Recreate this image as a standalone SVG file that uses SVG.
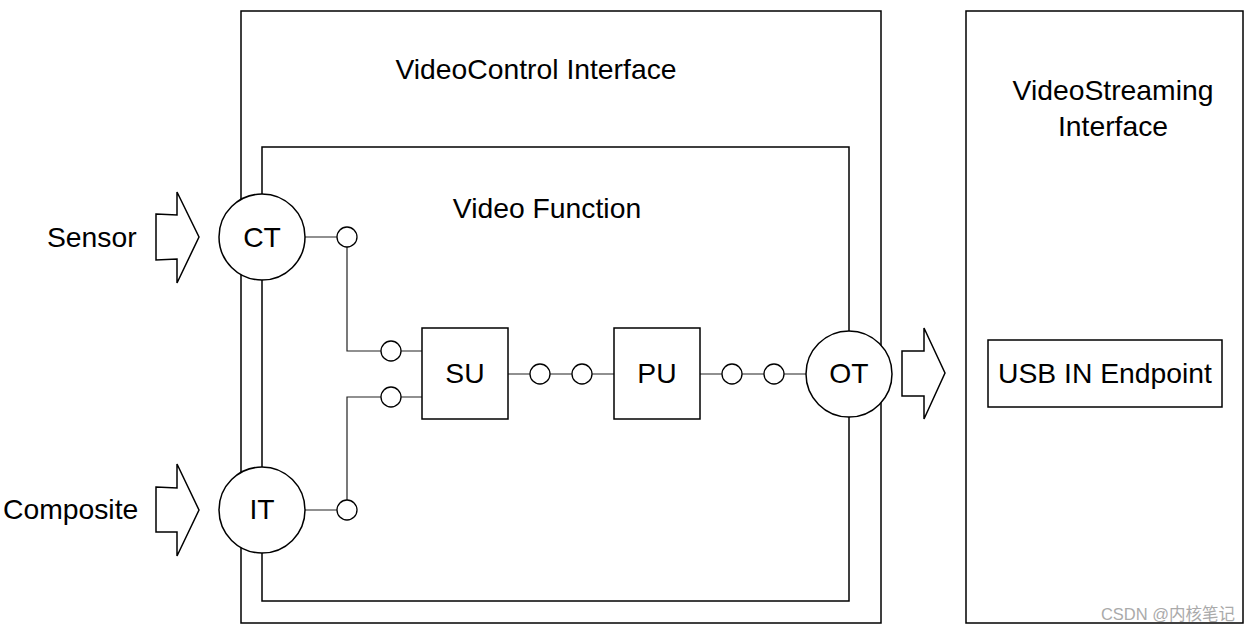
<svg xmlns="http://www.w3.org/2000/svg" width="1250" height="632" viewBox="0 0 1250 632">
<style>
.box{fill:none;stroke:#000;stroke-width:1.5}
.node{fill:#fff;stroke:#000;stroke-width:1.5}
.pin{fill:#fff;stroke:#000;stroke-width:1.3}
.wire{fill:none;stroke:#222;stroke-width:1.2}
.t{font-family:"Liberation Sans",Arial,sans-serif;font-size:28.3px;fill:#000}
.m{text-anchor:middle}
</style>
<rect width="1250" height="632" fill="#fff"/>
<g id="videocontrol-interface">
<rect class="box" x="241" y="11" width="640" height="612"/>
<text class="t m" x="536" y="79">VideoControl Interface</text>
</g>
<g id="video-function">
<rect class="box" x="262" y="147" width="587" height="454"/>
<text class="t m" x="547" y="218">Video Function</text>
</g>
<g id="videostreaming-interface">
<rect class="box" x="966" y="11" width="277" height="612"/>
<text class="t m" x="1113" y="100">VideoStreaming</text>
<text class="t m" x="1113" y="136">Interface</text>
</g>
<g id="connectors">
<path class="wire" d="M305 237H337M347 247V351H381M401 351H422"/>
<path class="wire" d="M305 510H337M347 500V397H381M401 397H422"/>
<path class="wire" d="M508 374H530M550 374H572M592 374H614"/>
<path class="wire" d="M700 374H722M742 374H764M784 374H806"/>
</g>
<g id="pins">
<circle class="pin" cx="347" cy="237" r="10"/>
<circle class="pin" cx="391" cy="351" r="10"/>
<circle class="pin" cx="391" cy="397" r="10"/>
<circle class="pin" cx="347" cy="510" r="10"/>
<circle class="pin" cx="540" cy="374" r="10"/>
<circle class="pin" cx="582" cy="374" r="10"/>
<circle class="pin" cx="732" cy="374" r="10"/>
<circle class="pin" cx="774" cy="374" r="10"/>
</g>
<g id="sensor">
<polygon class="node" points="156,214 177,215 177,192 199,237 177,283 177,259 156,260"/>
<text class="t" x="47" y="247">Sensor</text>
</g>
<g id="composite">
<polygon class="node" points="156,487 177,488 177,464 199,510 177,556 177,532 156,532"/>
<text class="t" x="3" y="519">Composite</text>
</g>
<g id="CT">
<circle class="node" cx="262" cy="237" r="43"/>
<text class="t m" x="262" y="247">CT</text>
</g>
<g id="IT">
<circle class="node" cx="262" cy="510" r="43"/>
<text class="t m" x="262" y="519">IT</text>
</g>
<g id="SU">
<rect class="node" x="422" y="328" width="86" height="91"/>
<text class="t m" x="465" y="383">SU</text>
</g>
<g id="PU">
<rect class="node" x="614" y="328" width="86" height="91"/>
<text class="t m" x="657" y="383">PU</text>
</g>
<g id="OT">
<circle class="node" cx="849" cy="374" r="43"/>
<text class="t m" x="849" y="383">OT</text>
</g>
<g id="out-arrow">
<polygon class="node" points="902,351 924,351 924,328 945,373 924,419 924,396 902,396"/>
</g>
<g id="usb-in-endpoint">
<rect class="node" x="988" y="340" width="234" height="67"/>
<text class="t m" x="1105" y="383">USB IN Endpoint</text>
</g>
<text x="1235" y="620" text-anchor="end" style="font-family:'Liberation Sans','Noto Sans CJK SC',sans-serif;font-size:16.5px;fill:#aaa">CSDN @内核笔记</text>
</svg>
